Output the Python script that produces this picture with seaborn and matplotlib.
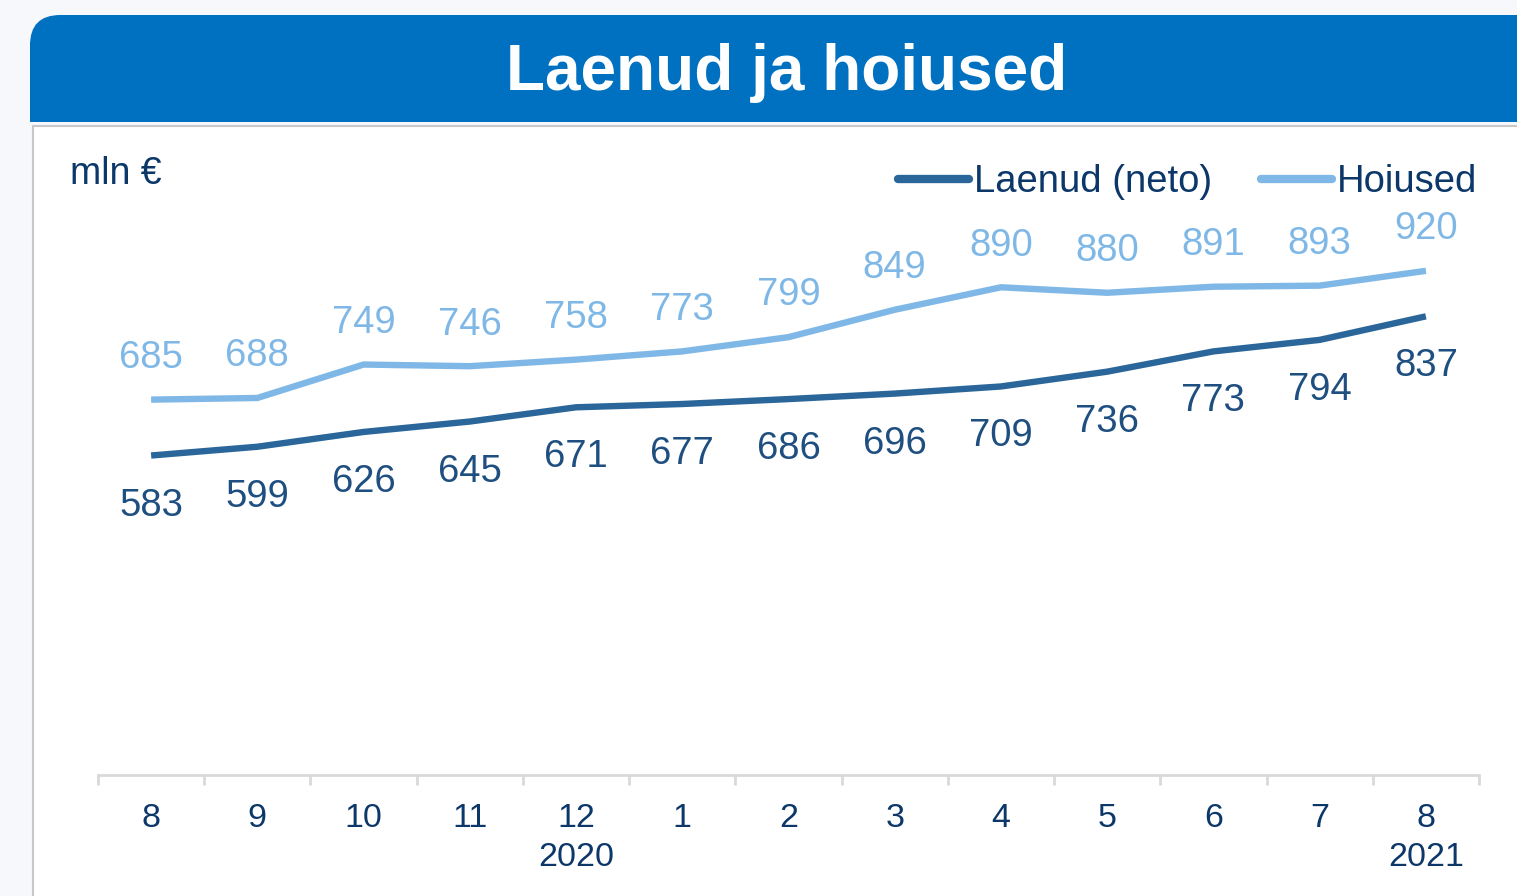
import numpy as np
import pandas as pd
import matplotlib
matplotlib.use("Agg")
import matplotlib.pyplot as plt
from matplotlib.patches import FancyBboxPatch, Rectangle
import seaborn as sns

# data
months = ["8", "9", "10", "11", "12", "1", "2", "3", "4", "5", "6", "7", "8"]
years = ["", "", "", "", "2020", "", "", "", "", "", "", "", "2021"]
laenud = [583, 599, 626, 645, 671, 677, 686, 696, 709, 736, 773, 794, 837]
hoiused = [685, 688, 749, 746, 758, 773, 799, 849, 890, 880, 891, 893, 920]

SERIES = ["Laenud (neto)", "Hoiused"]
LINE_COLORS = {"Laenud (neto)": "#2a6699", "Hoiused": "#7fb8e6"}
LABEL_COLORS = {"Laenud (neto)": "#1e4f80", "Hoiused": "#7fb8e6"}
TEXT_DARK = "#0c3769"

sns.set_theme(style="white")
plt.rcParams["font.family"] = ["Liberation Sans", "DejaVu Sans"]

df = pd.DataFrame({
    "pos": list(range(len(months))) * 2,
    "value": laenud + hoiused,
    "series": [SERIES[0]] * len(laenud) + [SERIES[1]] * len(hoiused),
})

W, H = 1517, 896
fig = plt.figure(figsize=(W / 100, H / 100), dpi=100)
fig.patch.set_facecolor("#f7f8fc")

# header banner (rounded top-left) and white panel
fig.patches.append(FancyBboxPatch((30 / W, 1 - 70 / H), 1.2, 55 / H,
                                  boxstyle="round,pad=0,rounding_size=0.02",
                                  transform=fig.transFigure, facecolor="#0070c0",
                                  edgecolor="none", mutation_aspect=W / H, zorder=-2))
fig.patches.append(Rectangle((30 / W, 1 - 122 / H), 1.0, 80 / H,
                             transform=fig.transFigure, facecolor="#0070c0",
                             edgecolor="none", zorder=-2))
fig.patches.append(Rectangle((33 / W, -0.01), 1.0, (896 - 126) / H + 0.01,
                             transform=fig.transFigure, facecolor="white",
                             edgecolor="#c8c8c8", linewidth=1.5, zorder=-1))
fig.text(787 / W, 1 - 73 / H, "Laenud ja hoiused", color="white",
         fontsize=46, fontweight="bold", ha="center", va="center")
fig.text(70 / W, 1 - 174 / H, "mln €", color=TEXT_DARK, fontsize=27,
         ha="left", va="center")

ax = fig.add_axes([98 / W, 1 - 775 / H, (1479 - 98) / W, (775 - 227) / H])
ax.set_facecolor("none")
ax.set_zorder(2)

sns.lineplot(data=df, x="pos", y="value", hue="series", palette=LINE_COLORS,
             hue_order=SERIES, linewidth=4.6, ax=ax, legend=False,
             solid_capstyle="butt")

# data labels
for x, v in zip(range(len(months)), laenud):
    ax.annotate(str(v), (x, v), xytext=(0, -36), textcoords="offset points",
                ha="center", va="center", fontsize=27.5,
                color=LABEL_COLORS["Laenud (neto)"])
for x, v in zip(range(len(months)), hoiused):
    ax.annotate(str(v), (x, v), xytext=(0, 30), textcoords="offset points",
                ha="center", va="center", fontsize=27.5,
                color=LABEL_COLORS["Hoiused"])

ax.set_xlim(-0.5, len(months) - 0.5)
ax.set_ylim(0, 1000)
ax.set_xlabel("")
ax.set_ylabel("")
ax.set_yticks([])
for s in ["top", "right", "left"]:
    ax.spines[s].set_visible(False)
ax.spines["bottom"].set_color("#d9d9d9")
ax.spines["bottom"].set_linewidth(2)

ax.set_xticks(range(len(months)))
ax.set_xticklabels([m + "\n" + y for m, y in zip(months, years)],
                   fontsize=24.5, color=TEXT_DARK, linespacing=1.35, va="top")
ax.tick_params(axis="x", which="major", bottom=True, length=0, pad=20)
ax.set_xticks(np.arange(-0.5, len(months)), minor=True)
ax.tick_params(axis="x", which="minor", bottom=True, length=7, width=2,
               color="#d9d9d9", direction="out")

# legend
handles = [plt.Line2D([], [], color=LINE_COLORS[s], linewidth=6,
                      solid_capstyle="round") for s in SERIES]
fig.legend(handles, SERIES, loc="center right",
           bbox_to_anchor=(1477 / W, 1 - 182 / H), ncol=2, frameon=False,
           fontsize=27.5, handlelength=1.85, handletextpad=0.12,
           columnspacing=1.3, labelcolor=TEXT_DARK, borderaxespad=0,
           borderpad=0)

fig.savefig("out.png", dpi=100, facecolor=fig.get_facecolor())
